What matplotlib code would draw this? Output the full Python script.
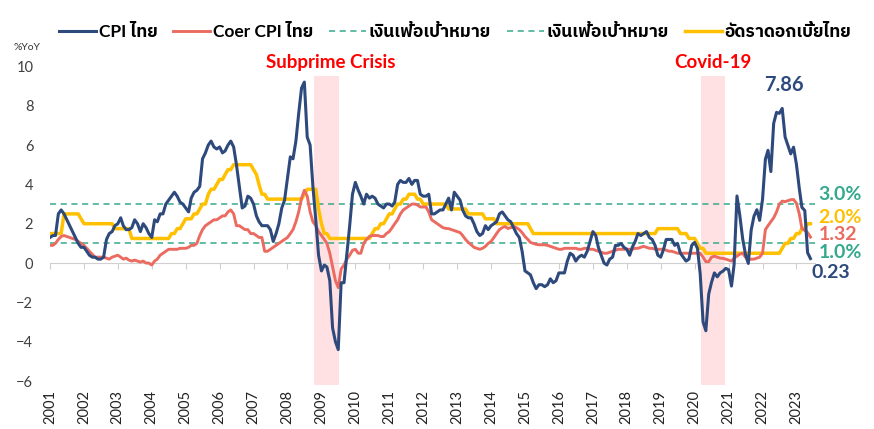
import numpy as np
import pandas as pd
import matplotlib
matplotlib.use("Agg")
import matplotlib.pyplot as plt
import matplotlib.dates as mdates
from matplotlib import font_manager
from matplotlib.ft2font import FT2Font

# --- data (monthly, Jan 2001 - Jun 2023, %YoY) ---
cpi = [
    1.3, 1.4, 1.4, 2.5, 2.7, 2.5, 2.2, 1.9, 1.6, 1.3, 1.0, 0.8,      # 2001
    0.8, 0.6, 0.4, 0.3, 0.3, 0.2, 0.2, 0.3, 1.2, 1.5, 1.6, 1.9,      # 2002
    2.0, 2.3, 1.9, 1.7, 1.7, 1.8, 2.2, 2.0, 1.6, 2.0, 1.8, 1.5,      # 2003
    1.3, 2.2, 2.1, 2.5, 2.5, 3.0, 3.2, 3.4, 3.6, 3.4, 3.1, 3.0,      # 2004
    2.8, 2.6, 3.3, 3.6, 3.7, 3.9, 5.3, 5.6, 6.0, 6.2, 5.9, 5.8,      # 2005
    5.9, 5.6, 5.7, 6.0, 6.2, 5.9, 5.0, 3.9, 2.8, 2.9, 3.4, 3.3,      # 2006
    3.0, 2.4, 2.1, 1.9, 1.9, 1.9, 1.7, 1.1, 1.5, 2.0, 2.8, 3.2,      # 2007
    4.3, 5.4, 5.3, 6.2, 7.6, 8.9, 9.2, 6.4, 6.0, 3.9, 2.2, 0.4,      # 2008
    -0.4, -0.1, -0.2, -0.9, -3.3, -4.0, -4.4, -1.0, -1.0, 0.4, 1.9, 3.5,  # 2009
    4.1, 3.7, 3.4, 3.0, 3.5, 3.3, 3.4, 3.3, 3.0, 2.9, 2.8, 3.0,      # 2010
    3.0, 2.9, 3.1, 4.0, 4.2, 4.1, 4.1, 4.3, 4.0, 4.2, 4.2, 3.5,      # 2011
    3.4, 3.4, 3.5, 2.5, 2.5, 2.6, 2.7, 2.7, 3.0, 3.3, 2.7, 3.6,      # 2012
    3.4, 3.2, 2.7, 2.4, 2.3, 2.3, 2.0, 1.6, 1.4, 1.5, 1.9, 1.7,      # 2013
    1.9, 2.0, 2.1, 2.5, 2.6, 2.4, 2.2, 2.1, 1.8, 1.5, 1.3, 0.6,      # 2014
    -0.4, -0.5, -0.6, -1.0, -1.3, -1.1, -1.1, -1.2, -1.1, -0.8, -1.0, -0.9,  # 2015
    -0.5, -0.5, -0.5, 0.1, 0.5, 0.4, 0.1, 0.3, 0.4, 0.3, 0.6, 1.1,   # 2016
    1.6, 1.4, 0.8, 0.4, 0.0, -0.1, 0.2, 0.3, 0.9, 0.9, 1.0, 0.8,     # 2017
    0.7, 0.4, 0.8, 1.1, 1.5, 1.4, 1.5, 1.6, 1.3, 1.2, 0.9, 0.4,      # 2018
    0.3, 0.7, 1.2, 1.2, 1.2, 0.9, 1.0, 0.5, 0.3, 0.1, 0.2, 0.9,      # 2019
    1.05, 0.74, -0.54, -2.99, -3.44, -1.57, -0.98, -0.50, -0.70, -0.50, -0.41, -0.27,  # 2020
    -0.34, -1.17, -0.08, 3.41, 2.44, 1.25, 0.45, -0.02, 1.68, 2.38, 2.71, 2.17,  # 2021
    3.23, 5.28, 5.73, 4.65, 7.10, 7.66, 7.61, 7.86, 6.41, 5.98, 5.55, 5.89,      # 2022
    5.02, 3.79, 2.83, 2.67, 0.53, 0.23,                                           # 2023
]

core = [
    0.9, 0.9, 1.0, 1.2, 1.35, 1.4, 1.35, 1.3, 1.25, 1.2, 1.1, 1.0,   # 2001
    0.9, 0.75, 0.6, 0.45, 0.3, 0.3, 0.3, 0.3, 0.25, 0.2, 0.3, 0.35,  # 2002
    0.4, 0.3, 0.2, 0.25, 0.15, 0.1, 0.15, 0.1, 0.05, 0.1, 0.0, 0.0,  # 2003
    -0.1, 0.1, 0.2, 0.4, 0.5, 0.6, 0.7, 0.7, 0.7, 0.7, 0.75, 0.75,   # 2004
    0.75, 0.8, 0.9, 0.9, 1.0, 1.4, 1.7, 1.9, 2.0, 2.1, 2.2, 2.2,     # 2005
    2.3, 2.4, 2.4, 2.6, 2.7, 2.5, 1.9, 1.9, 1.8, 1.7, 1.7, 1.5,      # 2006
    1.5, 1.4, 1.3, 1.3, 0.6, 0.6, 0.7, 0.8, 0.9, 1.0, 1.1, 1.2,      # 2007
    1.3, 1.5, 1.7, 2.1, 2.6, 3.3, 3.7, 3.4, 2.6, 2.1, 1.9, 1.6,      # 2008
    1.4, 1.2, 1.0, 0.5, -0.2, -0.9, -1.25, -0.3, -0.1, 0.2, 0.4, 0.65,  # 2009
    0.7, 0.5, 0.5, 1.0, 1.2, 1.35, 1.4, 1.4, 1.4, 1.35, 1.35, 1.5,   # 2010
    1.6, 1.8, 2.0, 2.2, 2.5, 2.7, 2.8, 2.9, 3.0, 3.0, 2.95, 2.85,    # 2011
    2.85, 2.85, 2.6, 2.2, 2.1, 2.0, 1.9, 1.8, 1.76, 1.75, 1.7, 1.65, # 2012
    1.6, 1.55, 1.4, 1.2, 1.05, 0.93, 0.8, 0.75, 0.7, 0.75, 0.85, 1.0,  # 2013
    1.1, 1.3, 1.5, 1.7, 1.8, 1.86, 1.76, 1.8, 1.86, 1.8, 1.7, 1.55,  # 2014
    1.35, 1.2, 1.05, 1.0, 0.95, 0.93, 0.93, 0.93, 0.9, 0.85, 0.8, 0.75,  # 2015
    0.7, 0.7, 0.75, 0.75, 0.75, 0.75, 0.75, 0.7, 0.7, 0.75, 0.75, 0.7,   # 2016
    0.7, 0.65, 0.6, 0.55, 0.5, 0.5, 0.55, 0.6, 0.65, 0.7, 0.7, 0.7,      # 2017
    0.7, 0.7, 0.7, 0.75, 0.75, 0.8, 0.85, 0.8, 0.75, 0.75, 0.7, 0.7,     # 2018
    0.7, 0.7, 0.65, 0.6, 0.6, 0.55, 0.5, 0.5, 0.5, 0.5, 0.5, 0.5,        # 2019
    0.5, 0.5, 0.5, 0.3, 0.07, 0.07, 0.3, 0.35, 0.3, 0.25, 0.24, 0.2,     # 2020
    0.15, 0.1, 0.25, 0.35, 0.45, 0.5, 0.3, 0.15, 0.2, 0.2, 0.25, 0.3,    # 2021
    0.5, 1.7, 1.9, 2.1, 2.3, 2.6, 2.99, 3.15, 3.12, 3.17, 3.22, 3.23,    # 2022
    3.04, 2.5, 1.75, 1.66, 1.55, 1.32,                                    # 2023
]

# policy rate: change dates and new levels
rate_dates = [
    "2001-01", "2001-06", "2001-12", "2002-01", "2002-12", "2003-06",
    "2004-08", "2004-10", "2004-12", "2005-01", "2005-04", "2005-06",
    "2005-07", "2005-09", "2005-10", "2005-12", "2006-01", "2006-03",
    "2006-04", "2006-06", "2007-01", "2007-02", "2007-03", "2007-04",
    "2007-06", "2008-07", "2008-08", "2008-12", "2009-01", "2009-02",
    "2009-04", "2010-07", "2010-08", "2010-10", "2010-12", "2011-01",
    "2011-03", "2011-04", "2011-06", "2011-08", "2011-11", "2012-01",
    "2012-10", "2013-05", "2013-11", "2014-03", "2015-03", "2015-04",
    "2018-12", "2019-08", "2019-11", "2020-02", "2020-03", "2020-05",
    "2022-08", "2022-09", "2022-11", "2023-01", "2023-03", "2023-05",
    "2023-06",
]
rate_vals = [
    1.5, 2.5, 2.25, 2.0, 1.75, 1.25,
    1.5, 1.75, 2.0, 2.25, 2.5, 2.75,
    3.0, 3.5, 3.75, 4.0, 4.25, 4.5,
    4.75, 5.0, 4.75, 4.5, 4.0, 3.5,
    3.25, 3.5, 3.75, 2.75, 2.0, 1.5,
    1.25, 1.5, 1.75, 2.0, 2.25, 2.5,
    2.75, 3.0, 3.25, 3.5, 3.25, 3.0,
    2.75, 2.5, 2.25, 2.0, 1.75, 1.5,
    1.75, 1.5, 1.25, 1.0, 0.75, 0.5,
    0.75, 1.0, 1.25, 1.5, 1.75, 2.0,
    2.0,
]

target_low, target_high = 1.0, 3.0
crises = [("Subprime Crisis", "2008-10-15", "2009-07-10", "2009-04-10"),
          ("Covid-19", "2020-03-05", "2020-11-28", "2020-07-20")]

# --- fonts: find something with Thai glyphs ---
def find_thai_font():
    names = []
    for f in font_manager.fontManager.ttflist:
        try:
            if 0x0E01 in FT2Font(f.fname).get_charmap():
                names.append(f.name)
        except Exception:
            pass
    for n in names:
        if "Thai" in n:
            return n
    return names[0] if names else None

thai = find_thai_font()
plt.rcParams["font.family"] = ["Lato"] + ([thai] if thai else []) + ["DejaVu Sans"]

NAVY = "#2E4A7D"
SALMON = "#EC6B60"
TEAL = "#35A98D"
GOLD = "#FFC000"
SHADE = "#FFE1E4"

months = pd.date_range("2001-01-01", periods=len(cpi), freq="MS")
# policy rate held month by month between decisions
rate_m = pd.Series(rate_vals, index=pd.to_datetime(rate_dates)).resample("MS").ffill()

fig = plt.figure(figsize=(8.74, 4.29), dpi=100)
ax = fig.add_axes([0.0572, 0.0979, 0.8753, 0.7704])

for name, d0, d1, mid in crises:
    ax.fill_between([pd.Timestamp(d0), pd.Timestamp(d1)], -6.2, 9.5,
                    color=SHADE, lw=0, zorder=0)
    ax.text(pd.Timestamp(mid), 10.2, name, color="red", fontsize=13.5,
            fontweight="bold", ha="center", va="center")

ax.axhline(target_high, color=TEAL, lw=1.1, ls=(0, (4, 3)), zorder=1,
           label="เงินเฟ้อเป้าหมาย")
ax.axhline(target_low, color=TEAL, lw=1.1, ls=(0, (4, 3)), zorder=1,
           label="เงินเฟ้อเป้าหมาย")
ax.plot(months, cpi, color=NAVY, lw=2.2, zorder=4, label="CPI ไทย")
ax.plot(months, core, color=SALMON, lw=2.1, zorder=3, label="Coer CPI ไทย")
ax.plot(rate_m.index, rate_m.values, color=GOLD, lw=2.5, zorder=2,
        label="อัดราดอกเบี้ยไทย")

ax.set_ylim(-6.3, 10.5)
ax.set_xlim(pd.Timestamp("2001-01-01"), pd.Timestamp("2023-07-20"))
ax.set_yticks(range(-6, 11, 2))
ax.tick_params(axis="y", length=0, pad=12, labelsize=10.5, labelcolor="#404040")

for s in ["top", "right", "left"]:
    ax.spines[s].set_visible(False)
ax.spines["bottom"].set_position(("data", 0))
ax.spines["bottom"].set_color("#D0D0D0")
ax.spines["bottom"].set_zorder(1)
ax.xaxis.set_major_locator(mdates.YearLocator())
ax.tick_params(axis="x", length=4, color="#D0D0D0", labelbottom=False)

sec = ax.secondary_xaxis("bottom")
sec.xaxis.set_major_locator(mdates.YearLocator())
sec.xaxis.set_major_formatter(mdates.DateFormatter("%Y"))
sec.tick_params(length=0, pad=2, labelsize=10.5, labelcolor="#222222", rotation=90)
sec.spines["bottom"].set_visible(False)

fig.text(13 / 874, 1 - 47 / 429, "%YoY", fontsize=7.5, color="#333333", va="center")

# end-of-series labels
lab_x = pd.Timestamp("2023-08-25")
ax.text(pd.Timestamp("2022-08-15"), 9.05, f"{max(cpi[-12:]):.2f}", color=NAVY,
        fontsize=14.5, fontweight="bold", ha="center", va="center")
ax.text(lab_x, 3.46, f"{target_high:.1f}%", color=TEAL, fontsize=14,
        fontweight="bold", va="center")
ax.text(lab_x, 2.34, f"{rate_vals[-1]:.1f}%", color=GOLD, fontsize=14,
        fontweight="bold", va="center")
ax.text(lab_x, 1.45, f"{core[-1]:.2f}", color=SALMON, fontsize=14,
        fontweight="bold", va="center")
ax.text(lab_x, 0.56, f"{target_low:.1f}%", color=TEAL, fontsize=14,
        fontweight="bold", va="center")
ax.text(pd.Timestamp("2023-06-10"), -0.46, f"{cpi[-1]:.2f}", color=NAVY,
        fontsize=14, fontweight="bold", va="center")

handles, labels = ax.get_legend_handles_labels()
order = [2, 3, 0, 1, 4]
fig.legend([handles[i] for i in order], [labels[i] for i in order],
           loc="center", bbox_to_anchor=(455 / 874, 1 - 32 / 429), ncol=5,
           frameon=False, handlelength=2.15, handletextpad=0.15,
           columnspacing=0.9, prop={"size": 12.5, "weight": "bold"})

fig.savefig("out.png", dpi=100)
